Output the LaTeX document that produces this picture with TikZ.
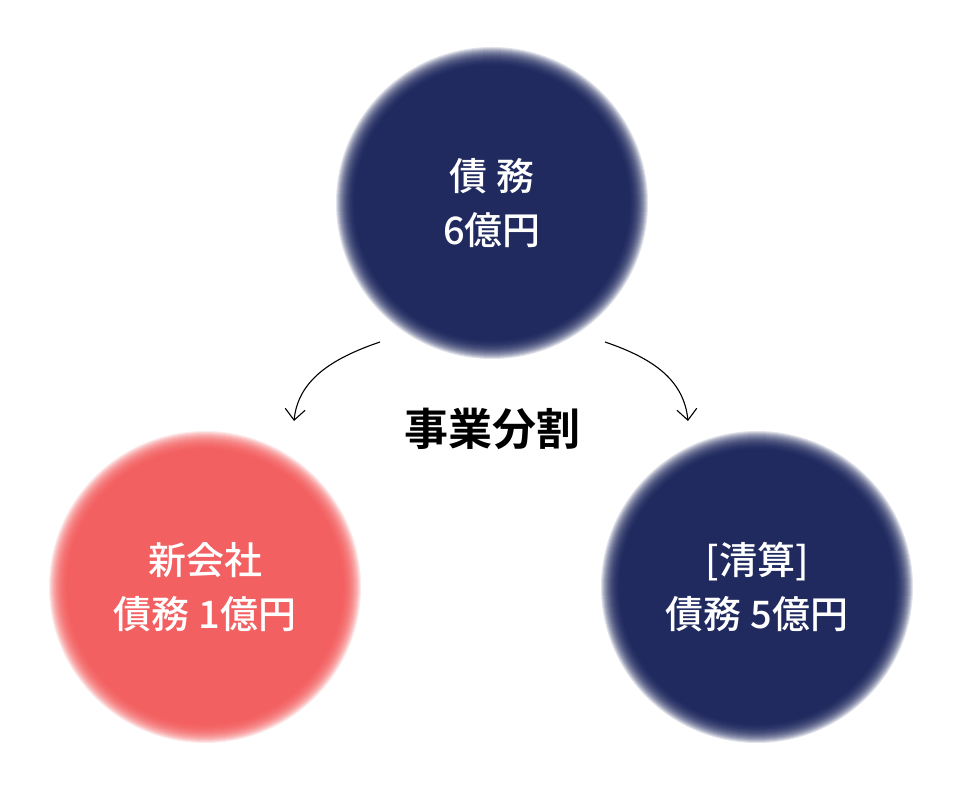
\documentclass[tikz,border=0pt]{standalone}
\usepackage{fontspec}
\setmainfont{Noto Sans CJK JP}[BoldFont={* Bold}]
\newfontfamily\medfont{Noto Sans CJK JP Medium}
\usetikzlibrary{arrows.meta}
\definecolor{navy}{HTML}{0B1650}
\definecolor{coral}{HTML}{F25152}
\tikzset{
  blob/.style={circle,minimum size=292pt,inner sep=0pt,text=white,align=center,
    font=\medfont\fontsize{38}{54}\selectfont},
  conn/.style={-{Straight Barb[length=11pt,width=20pt]},line width=1.1pt,black}
}
\newcommand{\blurdisc}[3]{%
  \foreach \d in {12,11,...,-6}{\fill[#3,opacity=0.12] (#1) circle (#2+\d);}}
\begin{document}
\begin{tikzpicture}[x=1pt,y=1pt]
\useasboundingbox (0,0) rectangle (960,791);
\blurdisc{492,588}{144}{navy}
\blurdisc{205,204}{144}{coral}
\blurdisc{757,204}{144}{navy}
\node[blob] (top) at (492,588) {債 務\\6億円};
\node[blob] (left) at (205,204) {新会社\\債務 1億円};
\node[blob] (right) at (757,204) {[清算]\\債務 5億円};
\node[font=\fontsize{44}{48}\selectfont\bfseries] (lbl) at (492,362) {事業分割};
\coordinate (a1) at (380,449);
\coordinate (a2) at (294,370);
\coordinate (b1) at (605,449);
\coordinate (b2) at (688,370);
\draw[conn] (a1) .. controls (330,432) and (298,410) .. (a2);
\draw[conn] (b1) .. controls (655,432) and (684,410) .. (b2);
\end{tikzpicture}
\end{document}
